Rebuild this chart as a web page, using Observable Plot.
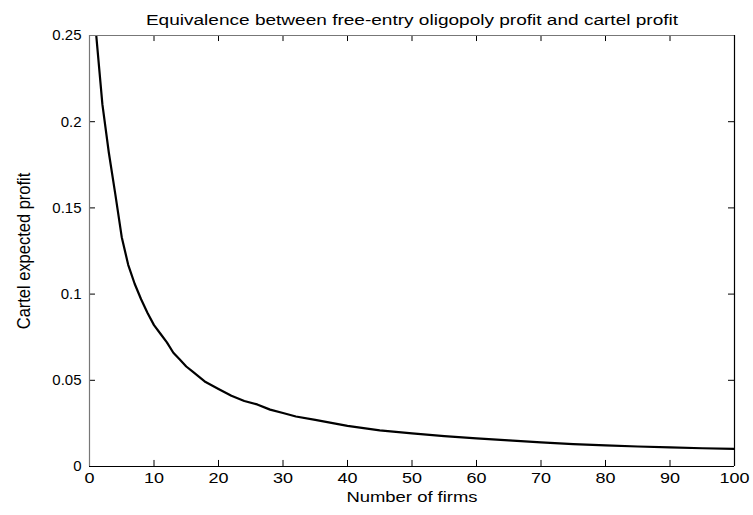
<!DOCTYPE html>
<html>
<head>
<meta charset="utf-8">
<script src="https://cdn.jsdelivr.net/npm/d3@7"></script>
<script src="https://cdn.jsdelivr.net/npm/@observablehq/plot@0.6"></script>
<style>
  html, body { margin: 0; padding: 0; background: #fff; }
  #chart svg { display: block; }
</style>
</head>
<body>
<div id="chart"></div>
<script>
const title = "Equivalence between free-entry oligopoly profit and cartel profit";
const xLabel = "Number of firms";
const yLabel = "Cartel expected profit";
const xTicks = [0, 10, 20, 30, 40, 50, 60, 70, 80, 90, 100];
const xTickLabels = ["0", "10", "20", "30", "40", "50", "60", "70", "80", "90", "100"];
const yTicks = [0, 0.05, 0.1, 0.15, 0.2, 0.25];
const yTickLabels = ["0", "0.05", "0.1", "0.15", "0.2", "0.25"];
const firms  = [1, 2, 3, 4, 5, 6, 7, 8, 9, 10, 11, 12, 13, 14, 15, 16, 17, 18, 20, 22, 24, 26, 28, 30, 32, 35, 40, 45, 50, 55, 60, 65, 70, 75, 80, 85, 90, 95, 100];
const profit = [0.252, 0.21, 0.182, 0.158, 0.133, 0.117, 0.106, 0.097, 0.089, 0.082, 0.077, 0.072, 0.066, 0.062, 0.058, 0.055, 0.052, 0.049, 0.045, 0.041, 0.038, 0.036, 0.033, 0.031, 0.029, 0.027, 0.0236, 0.021, 0.0192, 0.0176, 0.0163, 0.0151, 0.0140, 0.013, 0.0122, 0.0116, 0.0111, 0.0106, 0.0102];

const data = firms.map((n, i) => ({n, p: profit[i]}));
const font = "'Liberation Sans', Arial, sans-serif";

const chart = Plot.plot({
  width: 753,
  height: 515,
  marginTop: 35,
  marginLeft: 89,
  marginRight: 19,
  marginBottom: 49,
  style: {fontFamily: font, fontSize: "15px", color: "#000", background: "#fff"},
  x: {domain: [0, 100]},
  y: {domain: [0, 0.25]},
  marks: [
    Plot.line(data, {x: "n", y: "p", stroke: "#000", strokeWidth: 2.2, clip: true}),
    // inward ticks
    Plot.ruleX(xTicks, {x: d => d, y1: 0, y2: 0.0035, stroke: "#000"}),
    Plot.ruleX(xTicks, {x: d => d, y1: 0.25, y2: 0.2465, stroke: "#000"}),
    Plot.ruleY(yTicks, {y: d => d, x1: 0, x2: 0.93, stroke: "#000"}),
    Plot.ruleY(yTicks, {y: d => d, x1: 100, x2: 99.07, stroke: "#000"}),
    // box
    Plot.ruleX([0], {stroke: "#777", strokeWidth: 1.2}),
    Plot.ruleY([0.25], {stroke: "#777", strokeWidth: 1.2}),
    Plot.ruleX([100], {stroke: "#000", strokeWidth: 1.2}),
    Plot.ruleY([0], {stroke: "#000", strokeWidth: 1.2}),
    // tick labels
    Plot.axisX(xTicks, {tickSize: 0, tickPadding: 6, label: null, fontSize: 15, tickFormat: (d, i) => xTickLabels[i]}),
    Plot.axisY(yTicks, {tickSize: 0, tickPadding: 8, label: null, fontSize: 15, tickFormat: (d, i) => yTickLabels[i]}),
    // axis titles
    Plot.text([xLabel], {frameAnchor: "bottom", dy: 35, text: d => d, fontSize: 15}),
    Plot.text([yLabel], {frameAnchor: "left", textAnchor: "middle", dx: -66, rotate: -90, text: d => d, fontSize: 16}),
    Plot.text([title], {frameAnchor: "top", dy: -20, text: d => d, fontSize: 14})
  ]
});

document.getElementById("chart").appendChild(chart);

// widen text along its baseline to match the reference's stretched rendering
function stretchText(t, sx, sy) {
  const b = t.getBBox();
  const cx = b.x + b.width / 2, cy = b.y + b.height / 2;
  const tr = t.getAttribute("transform") || "";
  t.setAttribute("transform", `${tr} translate(${cx},${cy}) scale(${sx},${sy}) translate(${-cx},${-cy})`);
}
chart.querySelectorAll("text").forEach(t => {
  const s = t.textContent;
  if (s === title) stretchText(t, 1.36, 1);
  else if (s === xLabel) stretchText(t, 1.23, 1);
  else if (s === yLabel) stretchText(t, 1.03, 1.2);
});
chart.querySelectorAll('g[aria-label="x-axis tick label"] text').forEach(t => stretchText(t, 1.2, 1));
</script>
</body>
</html>
